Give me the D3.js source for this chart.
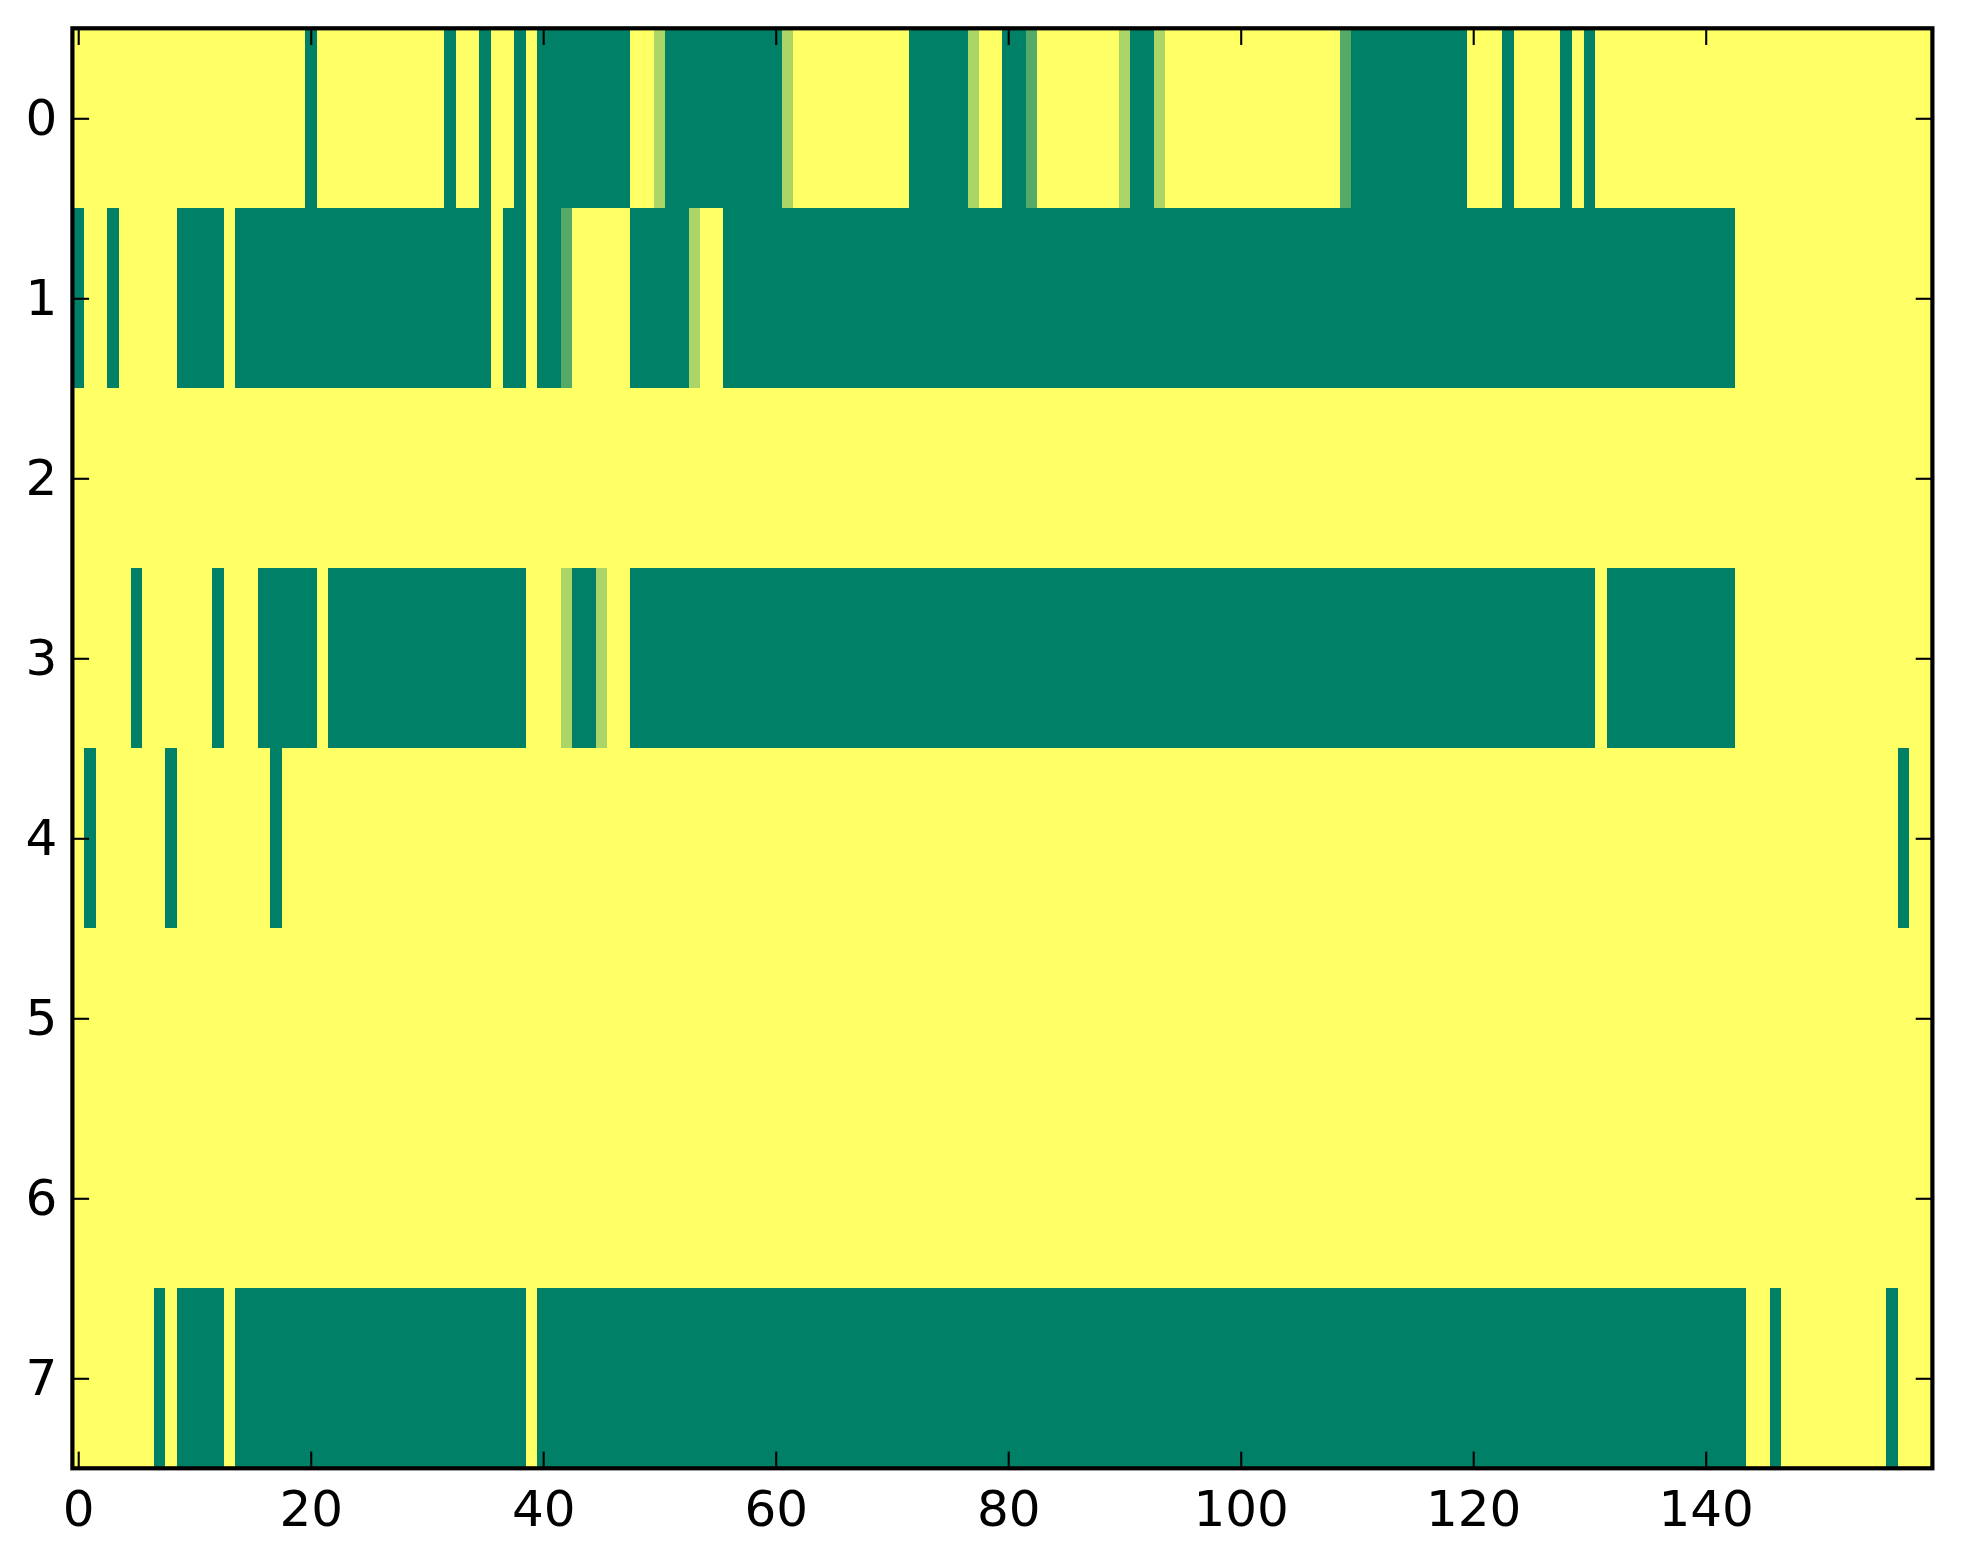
<!DOCTYPE html>
<html>
<head>
<meta charset="utf-8">
<script src="https://cdn.jsdelivr.net/npm/d3@7"></script>
<style>
  body { margin: 0; background: #fff; }
  svg { display: block; }
</style>
</head>
<body>
<svg id="chart"></svg>
<script>
// one array per image row, 160 columns each (1 = yellow, 0 = green)
const row0 = [
  1,1,1,1,1,1,1,1,1,1,1,1,1,1,1,1,1,1,1,1,
  0,1,1,1,1,1,1,1,1,1,1,1,0,1,1,0,1,1,0,1,
  0,0,0,0,0,0,0,0,1,1,0.67,0,0,0,0,0,0,0,0,0,
  0,0.67,1,1,1,1,1,1,1,1,1,1,0,0,0,0,0,0.67,1,1,
  0,0,0.33,1,1,1,1,1,1,1,0.67,0,0,0.67,1,1,1,1,1,1,
  1,1,1,1,1,1,1,1,1,0.33,0,0,0,0,0,0,0,0,0,0,
  1,1,1,0,1,1,1,1,0,1,0,1,1,1,1,1,1,1,1,1,
  1,1,1,1,1,1,1,1,1,1,1,1,1,1,1,1,1,1,1,1
]
const row1 = [
  0,1,1,0,1,1,1,1,1,0,0,0,0,1,0,0,0,0,0,0,
  0,0,0,0,0,0,0,0,0,0,0,0,0,0,0,0,1,0,0,1,
  0,0,0.33,1,1,1,1,1,0,0,0,0,0,0.67,1,1,0,0,0,0,
  0,0,0,0,0,0,0,0,0,0,0,0,0,0,0,0,0,0,0,0,
  0,0,0,0,0,0,0,0,0,0,0,0,0,0,0,0,0,0,0,0,
  0,0,0,0,0,0,0,0,0,0,0,0,0,0,0,0,0,0,0,0,
  0,0,0,0,0,0,0,0,0,0,0,0,0,0,0,0,0,0,0,0,
  0,0,0,1,1,1,1,1,1,1,1,1,1,1,1,1,1,1,1,1
]
const row2 = [
  1,1,1,1,1,1,1,1,1,1,1,1,1,1,1,1,1,1,1,1,
  1,1,1,1,1,1,1,1,1,1,1,1,1,1,1,1,1,1,1,1,
  1,1,1,1,1,1,1,1,1,1,1,1,1,1,1,1,1,1,1,1,
  1,1,1,1,1,1,1,1,1,1,1,1,1,1,1,1,1,1,1,1,
  1,1,1,1,1,1,1,1,1,1,1,1,1,1,1,1,1,1,1,1,
  1,1,1,1,1,1,1,1,1,1,1,1,1,1,1,1,1,1,1,1,
  1,1,1,1,1,1,1,1,1,1,1,1,1,1,1,1,1,1,1,1,
  1,1,1,1,1,1,1,1,1,1,1,1,1,1,1,1,1,1,1,1
]
const row3 = [
  1,1,1,1,1,0,1,1,1,1,1,1,0,1,1,1,0,0,0,0,
  0,1,0,0,0,0,0,0,0,0,0,0,0,0,0,0,0,0,0,1,
  1,1,0.67,0,0,0.67,1,1,0,0,0,0,0,0,0,0,0,0,0,0,
  0,0,0,0,0,0,0,0,0,0,0,0,0,0,0,0,0,0,0,0,
  0,0,0,0,0,0,0,0,0,0,0,0,0,0,0,0,0,0,0,0,
  0,0,0,0,0,0,0,0,0,0,0,0,0,0,0,0,0,0,0,0,
  0,0,0,0,0,0,0,0,0,0,0,1,0,0,0,0,0,0,0,0,
  0,0,0,1,1,1,1,1,1,1,1,1,1,1,1,1,1,1,1,1
]
const row4 = [
  1,0,1,1,1,1,1,1,0,1,1,1,1,1,1,1,1,0,1,1,
  1,1,1,1,1,1,1,1,1,1,1,1,1,1,1,1,1,1,1,1,
  1,1,1,1,1,1,1,1,1,1,1,1,1,1,1,1,1,1,1,1,
  1,1,1,1,1,1,1,1,1,1,1,1,1,1,1,1,1,1,1,1,
  1,1,1,1,1,1,1,1,1,1,1,1,1,1,1,1,1,1,1,1,
  1,1,1,1,1,1,1,1,1,1,1,1,1,1,1,1,1,1,1,1,
  1,1,1,1,1,1,1,1,1,1,1,1,1,1,1,1,1,1,1,1,
  1,1,1,1,1,1,1,1,1,1,1,1,1,1,1,1,1,0,1,1
]
const row5 = [
  1,1,1,1,1,1,1,1,1,1,1,1,1,1,1,1,1,1,1,1,
  1,1,1,1,1,1,1,1,1,1,1,1,1,1,1,1,1,1,1,1,
  1,1,1,1,1,1,1,1,1,1,1,1,1,1,1,1,1,1,1,1,
  1,1,1,1,1,1,1,1,1,1,1,1,1,1,1,1,1,1,1,1,
  1,1,1,1,1,1,1,1,1,1,1,1,1,1,1,1,1,1,1,1,
  1,1,1,1,1,1,1,1,1,1,1,1,1,1,1,1,1,1,1,1,
  1,1,1,1,1,1,1,1,1,1,1,1,1,1,1,1,1,1,1,1,
  1,1,1,1,1,1,1,1,1,1,1,1,1,1,1,1,1,1,1,1
]
const row6 = [
  1,1,1,1,1,1,1,1,1,1,1,1,1,1,1,1,1,1,1,1,
  1,1,1,1,1,1,1,1,1,1,1,1,1,1,1,1,1,1,1,1,
  1,1,1,1,1,1,1,1,1,1,1,1,1,1,1,1,1,1,1,1,
  1,1,1,1,1,1,1,1,1,1,1,1,1,1,1,1,1,1,1,1,
  1,1,1,1,1,1,1,1,1,1,1,1,1,1,1,1,1,1,1,1,
  1,1,1,1,1,1,1,1,1,1,1,1,1,1,1,1,1,1,1,1,
  1,1,1,1,1,1,1,1,1,1,1,1,1,1,1,1,1,1,1,1,
  1,1,1,1,1,1,1,1,1,1,1,1,1,1,1,1,1,1,1,1
]
const row7 = [
  1,1,1,1,1,1,1,0,1,0,0,0,0,1,0,0,0,0,0,0,
  0,0,0,0,0,0,0,0,0,0,0,0,0,0,0,0,0,0,0,1,
  0,0,0,0,0,0,0,0,0,0,0,0,0,0,0,0,0,0,0,0,
  0,0,0,0,0,0,0,0,0,0,0,0,0,0,0,0,0,0,0,0,
  0,0,0,0,0,0,0,0,0,0,0,0,0,0,0,0,0,0,0,0,
  0,0,0,0,0,0,0,0,0,0,0,0,0,0,0,0,0,0,0,0,
  0,0,0,0,0,0,0,0,0,0,0,0,0,0,0,0,0,0,0,0,
  0,0,0,0,1,1,0,1,1,1,1,1,1,1,1,1,0,1,1,1
]
const rows = [row0, row1, row2, row3, row4, row5, row6, row7]

const xTicks = [0, 20, 40, 60, 80, 100, 120, 140]
const yTicks = [0, 1, 2, 3, 4, 5, 6, 7]

const W = 1963, H = 1564
const mLeft = 72.4, mTop = 28.3, pw = 1860, ph = 1440
const nCols = row0.length, nRows = rows.length

const svg = d3.select("#chart").attr("width", W).attr("height", H)

const x = d3.scaleLinear().domain([-0.5, nCols - 0.5]).range([mLeft, mLeft + pw])
const y = d3.scaleLinear().domain([-0.5, nRows - 0.5]).range([mTop, mTop + ph])
// matplotlib "summer"
const color = d3.scaleLinear().domain([0, 1]).range(["#008066", "#ffff66"]).interpolate(d3.interpolateRgb)

let cells = []
rows.forEach((r, i) => {
  r.forEach((v, j) => cells.push({ row: i, col: j, v: v }))
})

svg.append("g")
  .selectAll("rect")
  .data(cells)
  .join("rect")
    .attr("x", d => x(d.col - 0.5))
    .attr("y", d => y(d.row - 0.5))
    .attr("width", d => x(d.col + 0.5) - x(d.col - 0.5) + 0.6)
    .attr("height", d => y(d.row + 0.5) - y(d.row - 0.5) + 0.6)
    .attr("fill", d => color(d.v))
    .attr("shape-rendering", "crispEdges")

const tickLen = 16.7

function styleAxis(g) {
  g.select(".domain").remove()
  g.selectAll(".tick line").attr("stroke", "#000").attr("stroke-width", 2.1)
  g.selectAll(".tick text")
    .attr("fill", "#000")
    .style("font-family", "'DejaVu Sans', sans-serif")
    .style("font-size", "50px")
}

svg.append("g")
  .attr("transform", "translate(0," + (mTop + ph) + ")")
  .call(d3.axisBottom(x).tickValues(xTicks).tickSizeInner(-tickLen).tickSizeOuter(0).tickPadding(22))
  .call(styleAxis)

svg.append("g")
  .attr("transform", "translate(0," + mTop + ")")
  .call(d3.axisTop(x).tickValues(xTicks).tickSizeInner(-tickLen).tickSizeOuter(0).tickFormat(""))
  .call(styleAxis)

svg.append("g")
  .attr("transform", "translate(" + mLeft + ",0)")
  .call(d3.axisLeft(y).tickValues(yTicks).tickSizeInner(-tickLen).tickSizeOuter(0).tickPadding(15))
  .call(styleAxis)

svg.append("g")
  .attr("transform", "translate(" + (mLeft + pw) + ",0)")
  .call(d3.axisRight(y).tickValues(yTicks).tickSizeInner(-tickLen).tickSizeOuter(0).tickFormat(""))
  .call(styleAxis)

// frame
svg.append("rect")
  .attr("x", mLeft).attr("y", mTop)
  .attr("width", pw).attr("height", ph)
  .attr("fill", "none")
  .attr("stroke", "#000")
  .attr("stroke-width", 4.2)
</script>
</body>
</html>
